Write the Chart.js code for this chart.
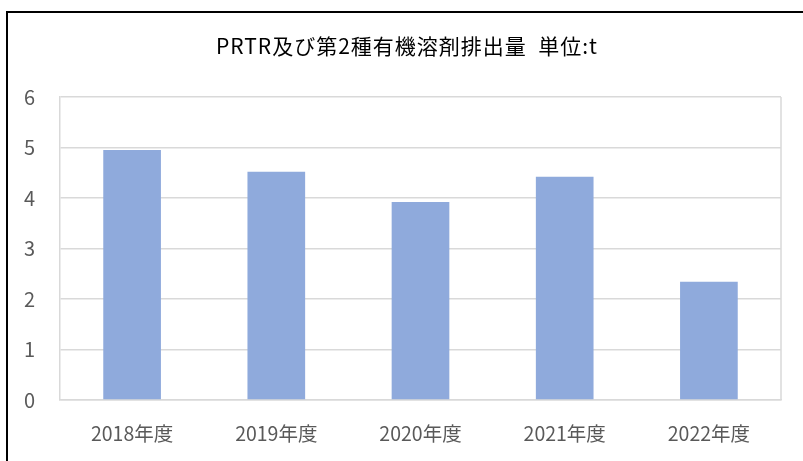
<!DOCTYPE html>
<html>
<head>
<meta charset="utf-8">
<script src="https://cdn.jsdelivr.net/npm/chart.js@4.4.1/dist/chart.umd.min.js"></script>
<style>
html,body{margin:0;padding:0;background:#fff;overflow:hidden;}
#wrap{position:relative;width:803px;height:461px;}
#frame{position:absolute;left:6px;top:11px;width:900px;height:600px;border:2px solid #000;pointer-events:none;box-sizing:border-box;}
canvas{position:absolute;left:0;top:0;}
</style>
</head>
<body>
<div id="wrap">
<canvas id="c" width="803" height="461"></canvas>
<div id="frame"></div>
</div>
<script>
const categories = ["2018年度", "2019年度", "2020年度", "2021年度", "2022年度"];
const values = [4.95, 4.52, 3.92, 4.42, 2.34];
const yTicks = [0, 1, 2, 3, 4, 5, 6];
const titleText = "PRTR及び第2種有機溶剤排出量  単位:t";

const gridColor = "#d9d9d9";
const cjk = "'Noto Sans CJK JP', sans-serif";

const extras = {
  id: "extras",
  beforeDatasetsDraw(chart) {
    const a = chart.chartArea, ctx = chart.ctx;
    ctx.save();
    ctx.strokeStyle = gridColor;
    ctx.lineWidth = 1.5;
    ctx.beginPath();
    ctx.moveTo(a.right, a.top);
    ctx.lineTo(a.right, a.bottom);
    ctx.stroke();
    ctx.restore();
  },
  afterDraw(chart) {
    const ctx = chart.ctx;
    ctx.save();
    ctx.font = "21px " + cjk;
    try { ctx.letterSpacing = "1px"; } catch (e) {}
    ctx.fillStyle = "#000";
    ctx.textAlign = "center";
    ctx.textBaseline = "middle";
    ctx.fillText(titleText, 407, 46);
    ctx.restore();
  }
};

new Chart(document.getElementById("c"), {
  type: "bar",
  data: {
    labels: categories,
    datasets: [{
      data: values,
      backgroundColor: "#8FAADC",
      borderWidth: 0,
      categoryPercentage: 1,
      barPercentage: 0.4
    }]
  },
  options: {
    responsive: false,
    animation: false,
    devicePixelRatio: 1,
    layout: { padding: { left: 0, right: 22, top: 97, bottom: 0 } },
    plugins: {
      legend: { display: false },
      tooltip: { enabled: false },
      title: { display: false }
    },
    scales: {
      x: {
        grid: { display: false, drawTicks: false },
        border: { display: true, color: gridColor, width: 1.5 },
        ticks: {
          color: "#595959",
          font: { family: cjk, size: 19.5 },
          padding: 22,
          maxRotation: 0
        },
        afterFit(s) { s.height = 61; }
      },
      y: {
        min: 0,
        max: 6,
        grid: { color: gridColor, lineWidth: 1.5, drawTicks: false },
        border: { display: true, color: gridColor, width: 1.5 },
        afterBuildTicks(s) { s.ticks = yTicks.map(v => ({ value: v })); },
        ticks: {
          color: "#595959",
          font: { family: cjk, size: 20 },
          padding: 25
        },
        afterFit(s) { s.width = 60; }
      }
    }
  },
  plugins: [extras]
});
</script>
</body>
</html>
